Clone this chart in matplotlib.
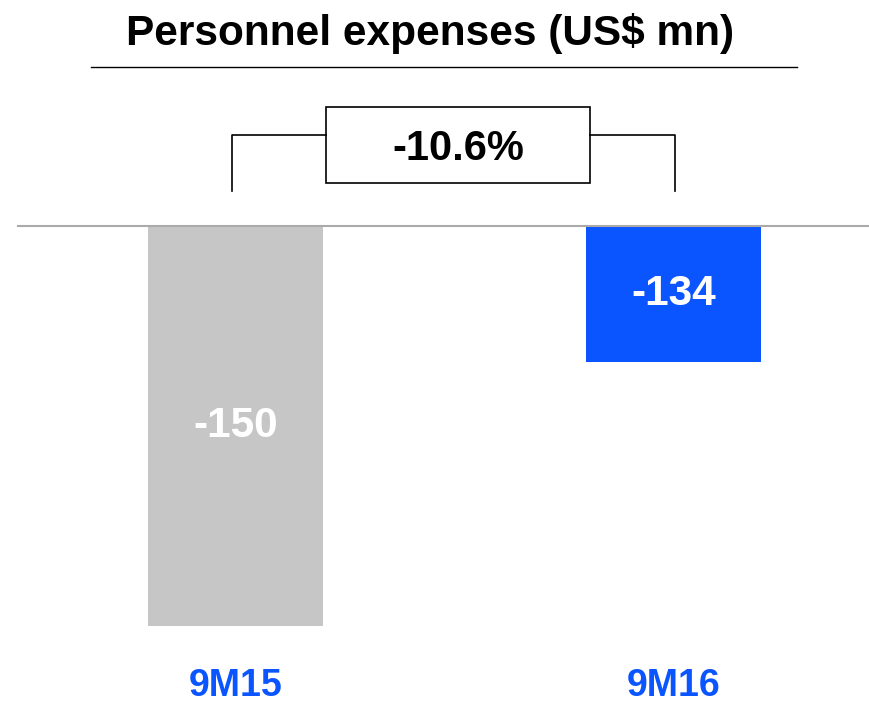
import matplotlib.pyplot as plt

plt.rcParams["font.family"] = ["Liberation Sans", "DejaVu Sans"]

# data
categories = ["9M15", "9M16"]
values = [-150, -134]
# bar lengths as drawn in the source slide (9M16 bar is not to scale there)
bar_lengths = [-150, -51]
bar_colors = ["#c6c6c6", "#0a55ff"]
change_label = "-10.6%"
title = "Personnel expenses (US$ mn)"

BLUE = "#0a55ff"

fig = plt.figure(figsize=(8.69, 7.09), dpi=100)
ax = fig.add_axes([0, 0, 1, 1])
ax.set_xlim(-0.5377, 1.4463)
ax.set_ylim(-181.1, 84.75)
ax.axis("off")

xs = list(range(len(categories)))
ax.bar(xs, bar_lengths, width=0.4, color=bar_colors, zorder=2)
ax.axhline(0, xmin=18 / 869, xmax=1, color="#aaaaaa", linewidth=1.5, zorder=3)

for x, v, h in zip(xs, values, bar_lengths):
    ax.text(x, h / 2, f"{v}", ha="center", va="center", color="white",
            fontsize=30.5, fontweight="bold", zorder=4)

for x, cat in zip(xs, categories):
    ax.text(x, -172.5, cat, ha="center", va="center", color=BLUE,
            fontsize=27, fontweight="bold")

# change bracket between the two bars
top, low = 34.1, 13.1
box_l, box_r = 0.2066, 0.809
ax.plot([xs[0] - 0.007, xs[0] - 0.007, box_l], [low, top, top], color="black", lw=1.2)
ax.plot([box_r, xs[1] + 0.003, xs[1] + 0.003], [top, top, low], color="black", lw=1.2)
ax.add_patch(plt.Rectangle((box_l, 16.1), box_r - box_l, 28.5, fill=False,
                           edgecolor="black", lw=1.2))
ax.text((box_l + box_r) / 2, 29.0, change_label, ha="center", va="center",
        fontsize=30, fontweight="bold")

# title with rule underneath
fig.text(0.495, 1 - 34 / 709, title, ha="center", va="center",
         fontsize=30.5, fontweight="bold")
fig.add_artist(plt.Line2D([91 / 869, 797 / 869], [1 - 67 / 709] * 2,
                          color="black", lw=1.0))

fig.savefig("out.png", dpi=100)
